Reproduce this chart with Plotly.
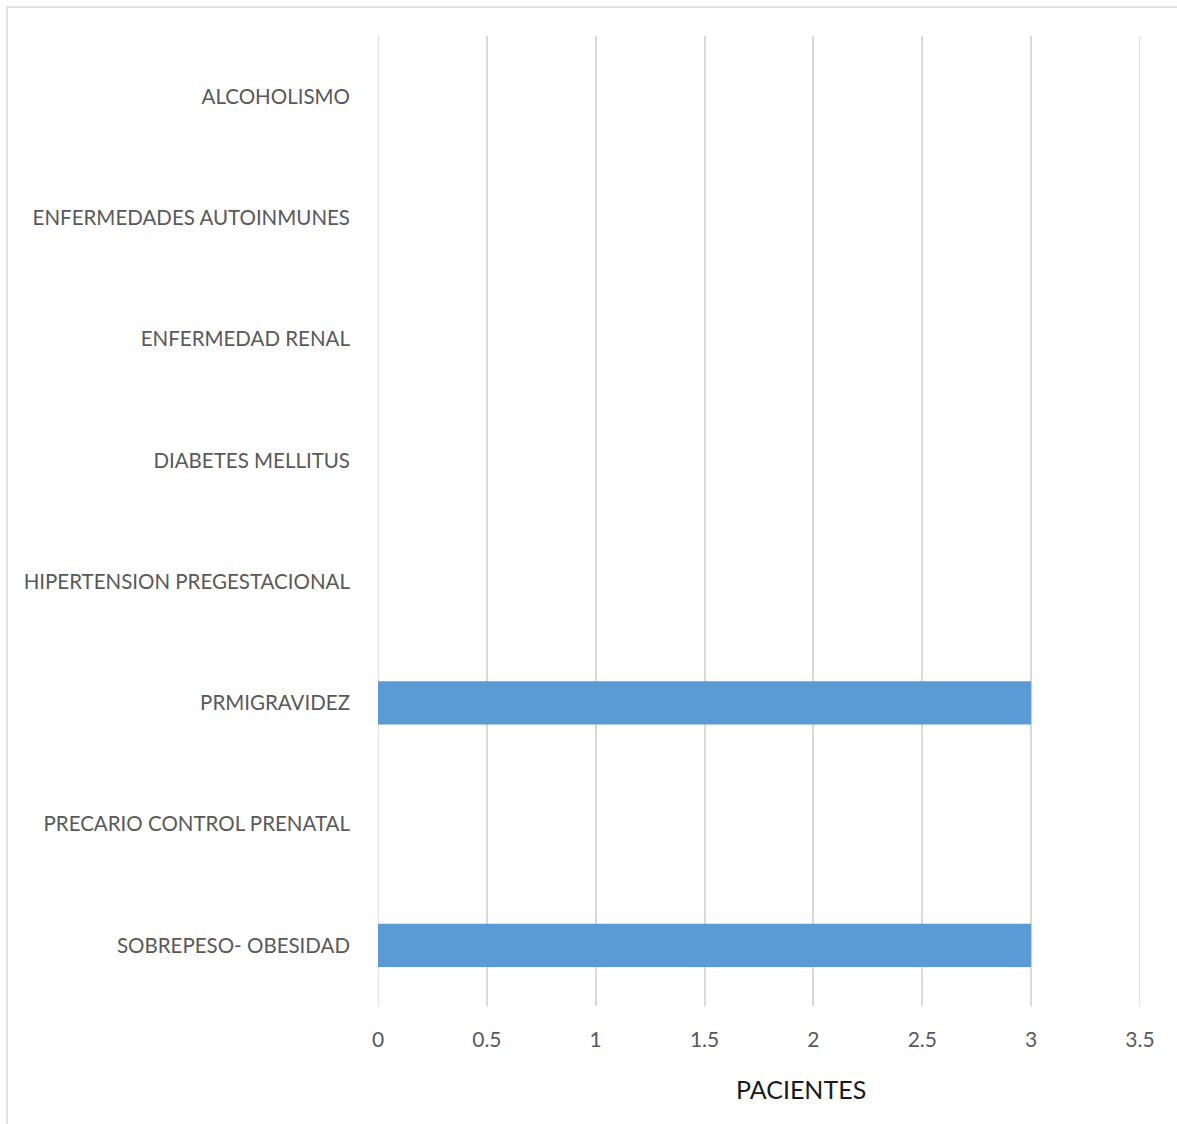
import plotly.graph_objects as go

# Risk factors (bottom to top) and patient counts
factores = [
    "SOBREPESO- OBESIDAD",
    "PRECARIO CONTROL PRENATAL",
    "PRMIGRAVIDEZ",
    "HIPERTENSION PREGESTACIONAL",
    "DIABETES MELLITUS",
    "ENFERMEDAD RENAL",
    "ENFERMEDADES AUTOINMUNES",
    "ALCOHOLISMO",
]
pacientes = [3, 0, 3, 0, 0, 0, 0, 0]
x_ticks = [0, 0.5, 1, 1.5, 2, 2.5, 3, 3.5]
x_tick_text = ["0", "0.5", "1", "1.5", "2", "2.5", "3", "3.5"]

W, H = 1177, 1124
L, R, T, B = 378, 37, 36, 118
plot_w = W - L - R
plot_h = H - T - B

FONT = "Lato, 'Open Sans', sans-serif"
GRID = "#d9d9d9"

fig = go.Figure(
    go.Bar(
        x=pacientes,
        y=factores,
        orientation="h",
        marker=dict(color="#5b9bd5", line=dict(width=0)),
        width=0.355,
    )
)

fig.update_layout(
    width=W,
    height=H,
    margin=dict(l=L, r=R, t=T, b=B),
    paper_bgcolor="white",
    plot_bgcolor="white",
    showlegend=False,
    font=dict(family=FONT, color="#595959", size=20),
    xaxis=dict(
        range=[x_ticks[0], x_ticks[-1]],
        tickvals=x_ticks,
        ticktext=x_tick_text,
        showgrid=True,
        gridcolor=GRID,
        gridwidth=1.5,
        zeroline=False,
        showline=False,
        ticks="",
        ticklabelstandoff=19,
        tickfont=dict(size=21, color="#595959"),
    ),
    yaxis=dict(
        categoryorder="array",
        categoryarray=factores,
        showgrid=False,
        zeroline=False,
        showline=False,
        ticks="",
        ticklabelstandoff=27,
        tickfont=dict(size=20.5, color="#595959"),
    ),
)

# Gridlines at the two ends of the value axis (plotly clips those at the edges)
for xv in (x_ticks[0], x_ticks[-1]):
    fig.add_shape(
        type="line",
        xref="x",
        yref="paper",
        x0=xv,
        x1=xv,
        y0=0,
        y1=1,
        line=dict(color=GRID, width=1.5),
        layer="below",
    )

# Axis title below the tick labels
fig.add_annotation(
    text="PACIENTES",
    xref="paper",
    yref="paper",
    x=(801 - L) / plot_w,
    y=-(1089 - (H - B)) / plot_h,
    xanchor="center",
    yanchor="middle",
    showarrow=False,
    font=dict(family=FONT, size=25, color="#1a1a1a"),
)

# Light chart-area border along the top and left edges
fig.add_shape(
    type="rect",
    xref="paper",
    yref="paper",
    x0=(7 - L) / plot_w,
    x1=(W + 20 - L) / plot_w,
    y0=-(H + 20 - (H - B)) / plot_h,
    y1=1 + (T - 7) / plot_h,
    line=dict(color=GRID, width=1.5),
    fillcolor="rgba(0,0,0,0)",
    layer="below",
)

fig.write_html("out.html")
